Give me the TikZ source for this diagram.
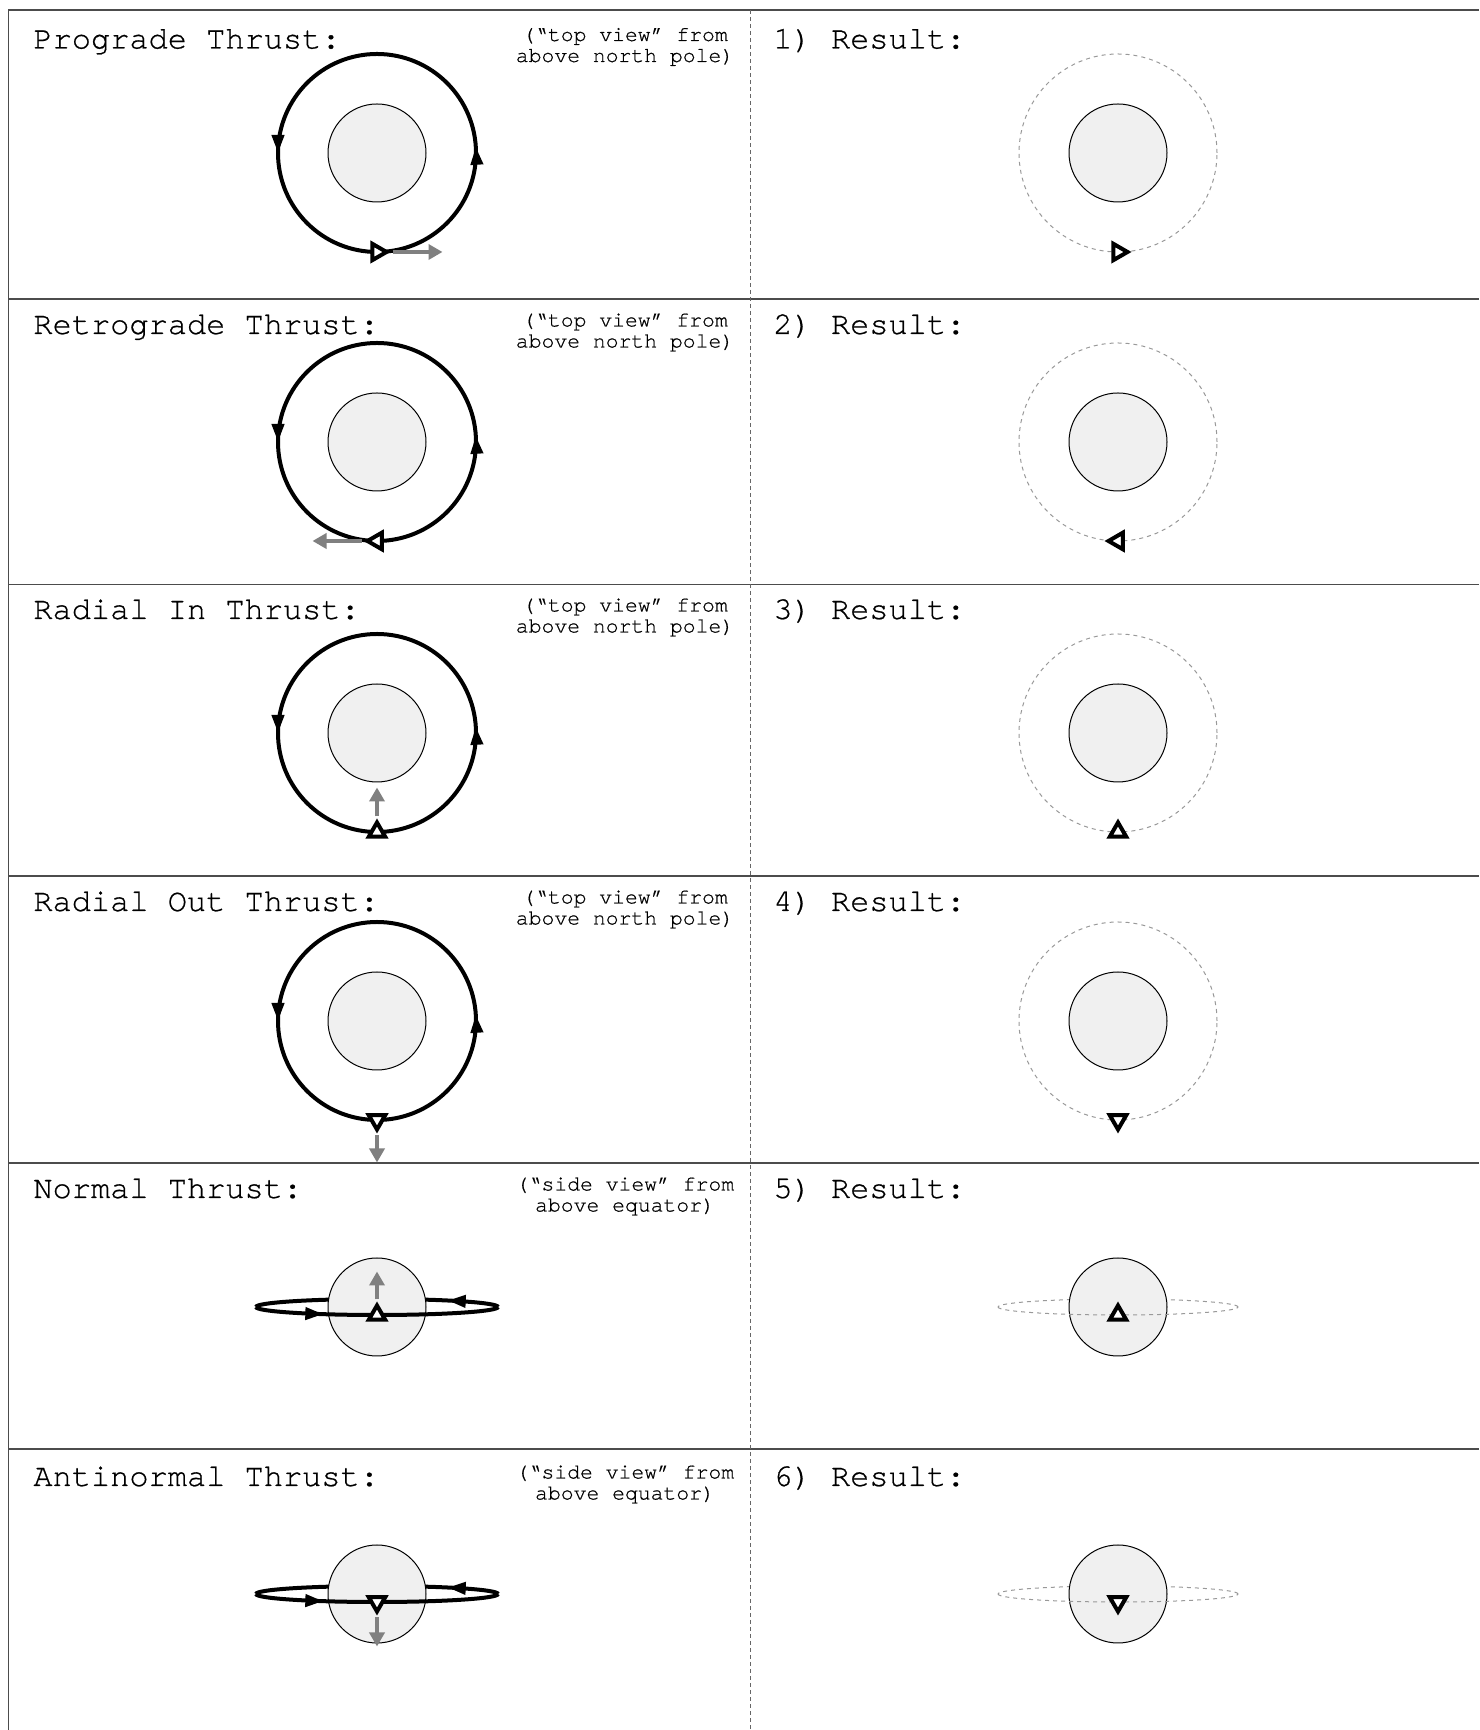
\documentclass[tikz,border=0pt]{standalone}
\usepackage{fontspec}
\setmonofont{TeX Gyre Cursor}[FakeBold=0.6]
\usepackage{tikz}
\usetikzlibrary{arrows.meta, calc}
\usetikzlibrary{shapes.geometric}
\usetikzlibrary{decorations.markings}
\definecolor{planetfill}{gray}{0.94}
\definecolor{thrustgray}{gray}{0.5}
\definecolor{resgray}{gray}{0.6}

\begin{document}
\begin{tikzpicture}[x=0.5pt,y=0.5pt,font=\ttfamily,
  frame/.style={black!70,line width=0.65pt},
  divider/.style={black!60,line width=0.5pt,dash pattern=on 2pt off 1.5pt},
  title/.style={anchor=base west,inner sep=0pt,font=\ttfamily\fontsize{16pt}{19pt}\selectfont},
  note/.style={anchor=base,inner sep=0pt,font=\ttfamily\fontsize{10.7pt}{13pt}\selectfont},
  planet/.style={circle,draw,line width=0.5pt,fill=planetfill,minimum size=49pt,inner sep=0pt},
  ship/.style={regular polygon,regular polygon sides=3,draw,fill=white,line width=2pt,
    minimum size=9.5pt,inner sep=0pt},
  orbittip/.tip={Triangle[length=9pt,width=6pt]},
  thrusttip/.tip={Triangle[length=7pt,width=7.5pt]},
  toporbit/.style={line width=2pt,postaction={decorate},
    decoration={markings,
      mark=at position 0.01 with {\arrow{orbittip}},
      mark=at position 0.5 with {\arrow{orbittip}}}},
  sideorbit/.style={line width=2pt,postaction={decorate},
    decoration={markings,mark=at position #1 with {\arrow{orbittip}}}},
  resorbit/.style={resgray,line width=0.5pt,dash pattern=on 2pt off 2pt},
  thrust/.style={thrustgray,line width=2pt,-{thrusttip},shorten <=1pt}]

\useasboundingbox (0,0) rectangle (1479,1730);

% --- Cornice e righe
\draw[frame] (8.5,0) -- (8.5,1720) -- (1479,1720);
\foreach \y in {1431,1145.5,854,567,281}{
  \draw[frame] (8.5,\y) -- (1479,\y);
}
\draw[divider] (750,1720) -- (750,0);

% --- Titoli
\foreach \n/\y/\lab in {1/1681.5/Prograde Thrust:,2/1396/Retrograde Thrust:,
    3/1111/Radial In Thrust:,4/819/Radial Out Thrust:,5/532/Normal Thrust:,
    6/244/Antinormal Thrust:}{
  \node[title] (thrust\n) at (33,\y) {\lab};
  \node[title] (result\n) at (773,\y) {\n) Result:};
}

% --- Note sulla vista
\foreach \n/\y/\kind/\where in {1/1681.5/top/north pole,2/1396/top/north pole,
    3/1111/top/north pole,4/819/top/north pole,5/532/side/equator,6/244/side/equator}{
  \node[note] (viewa\n) at (625,\y+7.5) {(“\kind{} view” from};
  \node[note] (viewb\n) at (625,\y-13.5) {above \where)};
}

% --- Vista dall'alto (righe 1-4)
\foreach \n/\y in {1/1577,2/1288,3/997,4/709}{
  \node[planet] (p\n) at (377,\y) {};
  \draw[toporbit] (p\n.center) circle[radius=99];
  \node[planet] (r\n) at (1118,\y) {};
  \draw[resorbit] (r\n.center) circle[radius=99];
}

% --- Vista laterale (righe 5-6): meta' dietro, pianeta, meta' davanti
\foreach \n/\y in {5/423,6/136}{
  \coordinate (c\n) at (377,\y);
  \draw[sideorbit=0.21] ($(c\n)+(121,0)$) arc[start angle=0,end angle=180,x radius=121,y radius=8];
  \node[planet] (p\n) at (c\n) {};
  \draw[sideorbit=0.28] ($(c\n)+(-121,0)$) arc[start angle=180,end angle=360,x radius=121,y radius=8];
  \coordinate (d\n) at (1118,\y);
  \draw[resorbit] ($(d\n)+(120,0)$) arc[start angle=0,end angle=180,x radius=120,y radius=8];
  \node[planet] (r\n) at (d\n) {};
  \draw[resorbit] ($(d\n)+(-120,0)$) arc[start angle=180,end angle=360,x radius=120,y radius=8];
}

% --- Navicelle e spinte
\node[ship,shape border rotate=-90] (s1) at (377,1478) {};
\draw[thrust] (s1.corner 1) -- ++(52,0);
\node[ship,shape border rotate=90] (s2) at (377,1189) {};
\draw[thrust] (s2.corner 1) -- ++(-51,0);
\node[ship] (s3) at (377,898) {};
\draw[thrust] (s3.corner 1) -- ++(0,31);
\node[ship,shape border rotate=180] (s4) at (377,610) {};
\draw[thrust] (s4.corner 1) -- ++(0,-29);
\node[ship] (s5) at (377,415) {};
\draw[thrust] (s5.corner 1) -- ++(0,30);
\node[ship,shape border rotate=180] (s6) at (377,128) {};
\draw[thrust] (s6.corner 1) -- ++(0,-31);

% --- Risultati
\node[ship,shape border rotate=-90] (t1) at (1118,1478) {};
\node[ship,shape border rotate=90] (t2) at (1118,1189) {};
\node[ship] (t3) at (1118,898) {};
\node[ship,shape border rotate=180] (t4) at (1118,610) {};
\node[ship] (t5) at (1118,415) {};
\node[ship,shape border rotate=180] (t6) at (1118,128) {};

\end{tikzpicture}
\end{document}
